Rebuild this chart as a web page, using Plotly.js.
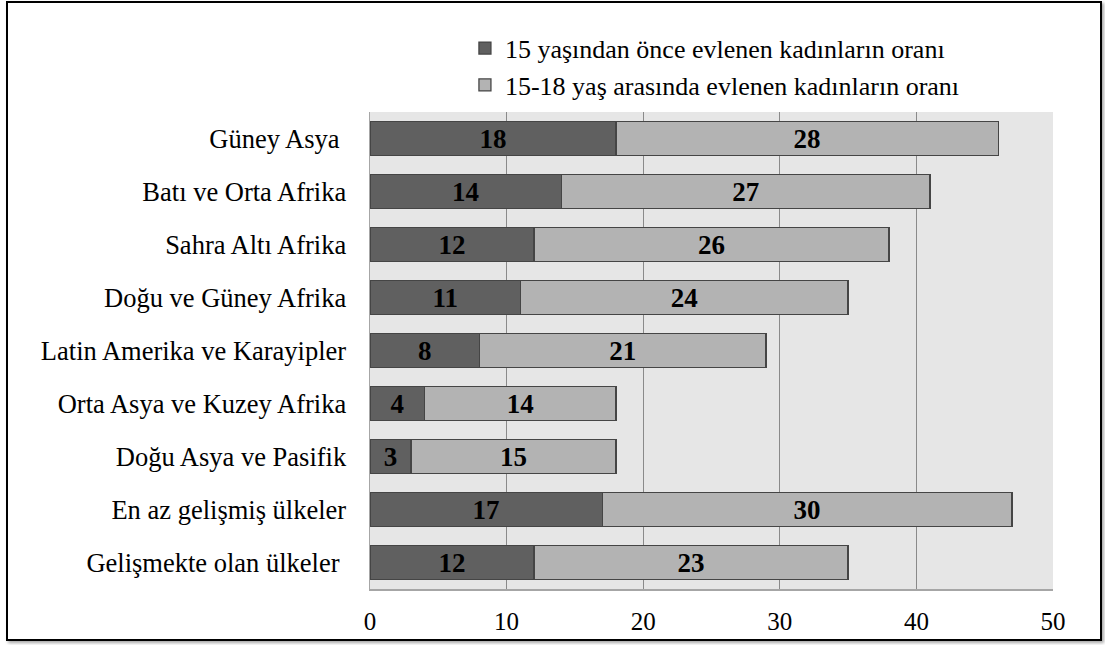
<!DOCTYPE html>
<html>
<head>
<meta charset="utf-8">
<script src="https://cdn.plot.ly/plotly-3.0.1.min.js"></script>
<style>
html,body{margin:0;padding:0;background:#fff;}
#wrap{position:relative;width:1105px;height:645px;}
#chart{width:1105px;height:645px;}
#frame{position:absolute;left:6px;top:1px;width:1092px;height:636px;border:2px solid #000;box-shadow:2px 2px 3px rgba(0,0,0,0.35);pointer-events:none;}
</style>
</head>
<body>
<div id="wrap"><div id="chart"></div><div id="frame"></div></div>
<script>
const categories = [
  "Güney Asya\u00a0",
  "Batı ve Orta Afrika",
  "Sahra Altı Afrika",
  "Doğu ve Güney Afrika",
  "Latin Amerika ve Karayipler",
  "Orta Asya ve Kuzey Afrika",
  "Doğu Asya ve Pasifik",
  "En az gelişmiş ülkeler",
  "Gelişmekte olan ülkeler\u00a0"
];
const before15 = [18, 14, 12, 11, 8, 4, 3, 17, 12];
const between15and18 = [28, 27, 26, 24, 21, 14, 15, 30, 23];
const seriesNames = [
  "15 yaşından önce evlenen kadınların oranı",
  "15-18 yaş arasında evlenen kadınların oranı"
];
const xTicks = [0, 10, 20, 30, 40, 50];

const font = "Liberation Serif, Times New Roman, serif";

function mk(vals, name, color) {
  return {
    type: 'bar', orientation: 'h',
    y: categories, x: vals, name: name,
    text: vals.map(String),
    textposition: 'inside', insidetextanchor: 'middle', textangle: 0,
    textfont: {family: font, size: 27, color: '#000', weight: 'bold'},
    constraintext: 'none',
    marker: {color: color, line: {color: '#454545', width: 1.3}},
    hoverinfo: 'none'
  };
}

const data = [
  mk(before15, seriesNames[0], '#606060'),
  mk(between15and18, seriesNames[1], '#b3b3b3')
];

const layout = {
  width: 1105, height: 645,
  margin: {l: 370, r: 52, t: 112, b: 56},
  barmode: 'stack', bargap: 0.36,
  paper_bgcolor: '#fff', plot_bgcolor: '#e6e6e6',
  font: {family: font, color: '#000', size: 25},
  showlegend: true,
  legend: {
    x: 0.139, y: 1.183, xanchor: 'left', yanchor: 'top',
    orientation: 'v', traceorder: 'normal',
    font: {family: font, size: 26, color: '#000'},
    bgcolor: 'rgba(0,0,0,0)', itemwidth: 30
  },
  xaxis: {
    range: [0, 50], tickvals: xTicks, ticktext: xTicks.map(String),
    showgrid: true, gridcolor: '#8a8a8a', gridwidth: 1.3,
    zeroline: false, showline: true, linecolor: '#a6a6a6', linewidth: 1.5,
    ticks: 'outside', ticklen: 9, tickcolor: 'rgba(0,0,0,0)',
    tickfont: {family: font, size: 25, color: '#000'},
    fixedrange: true
  },
  yaxis: {
    type: 'category', categoryorder: 'array', categoryarray: categories,
    autorange: 'reversed',
    showgrid: false, zeroline: false,
    showline: true, linecolor: '#a6a6a6', linewidth: 1.5,
    ticks: 'outside', ticklen: 17, tickcolor: 'rgba(0,0,0,0)',
    tickfont: {family: font, size: 26.5, color: '#000'},
    fixedrange: true
  }
};

Plotly.newPlot('chart', data, layout, {displayModeBar: false, staticPlot: true});
</script>
</body>
</html>
